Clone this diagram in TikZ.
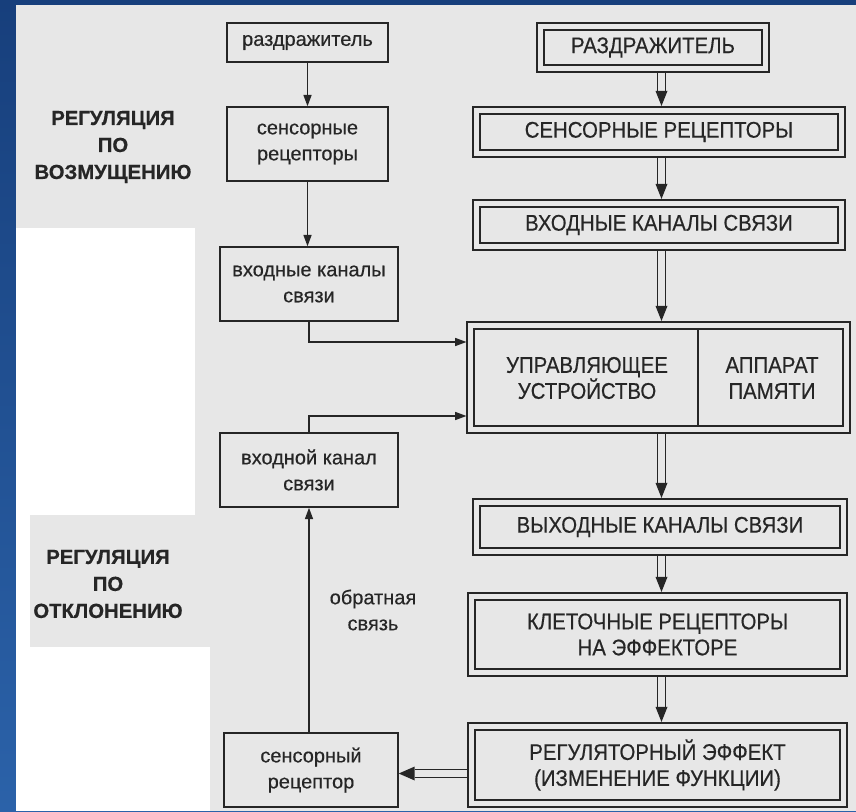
\documentclass[tikz,border=0pt]{standalone}
\usepackage{fontspec}
\setmainfont{Liberation Sans}[FakeBold=0.4]
\newfontfamily\capsfont{Liberation Sans}[FakeStretch=0.9,FakeBold=0.4]
\usetikzlibrary{calc,arrows.meta}
\definecolor{paper}{HTML}{E7E7E7}
\definecolor{ink}{HTML}{262626}
\definecolor{bluetop}{HTML}{173F7C}
\definecolor{bluebot}{HTML}{2B62A9}
\newcommand\dblarrow[2]{%
  \draw[dblline] ($(#1.south -| ax)+(0,4)$) -- ($(#2.north -| ax)+(0,-17)$);
  \fill[ink] ($(#2.north -| ax)+(0,-4)$) -- ++(-6,-15) -- ++(12,0) -- cycle;}
\begin{document}
\begin{tikzpicture}[x=0.75pt,y=-0.75pt,
  every node/.style={text=ink, inner sep=0pt, align=center},
  lbox/.style={draw=ink, line width=1.1pt, font=\fontsize{15}{19.5}\selectfont},
  capstext/.style={font=\capsfont\fontsize{17}{19.5}\selectfont},
  rbox/.style={draw=ink, line width=0.85pt, double=paper, double distance=4.4pt, capstext},
  arr/.style={draw=ink, line width=1.1pt, -{Triangle[length=8.5pt,width=6pt]}},
  dblline/.style={draw=ink, line width=0.85pt, double=paper, double distance=5.5pt},
  biglabel/.style={font=\bfseries\fontsize{15.25}{20.25}\selectfont},
  smalllabel/.style={font=\fontsize{15}{19.5}\selectfont}]
\useasboundingbox (0,0) rectangle (856,811);
% background
\shade[top color=bluetop, bottom color=bluebot] (0,0) rectangle (856,811);
\fill[paper] (16,5) rectangle (856,811);
\fill[white] (16,228) rectangle (195,515);
\fill[white] (16,515) rectangle (30,647);
\fill[white] (16,647) rectangle (210,811);
% helper coordinates
\coordinate (ax) at (661.5,0);
\coordinate (j1) at (308,342);
\coordinate (j2) at (308,416);
\coordinate (fb) at (0,773.5);
\coordinate (dv) at (698,0);
% left column
\node[lbox, minimum width=161*0.75pt, minimum height=39*0.75pt] (L1) at (307.5,42.5) {раздражитель};
\node[lbox, minimum width=161*0.75pt, minimum height=74*0.75pt] (L2) at (307.5,144) {сенсорные\\рецепторы};
\node[lbox, minimum width=178*0.75pt, minimum height=74*0.75pt] (L3) at (309,284) {входные каналы\\связи};
\node[lbox, minimum width=178*0.75pt, minimum height=74*0.75pt] (L4) at (309,470) {входной канал\\связи};
\node[lbox, minimum width=174*0.75pt, minimum height=74*0.75pt] (L5) at (311,770) {сенсорный\\рецептор};
% right column
\node[rbox, minimum width=225*0.75pt, minimum height=42*0.75pt] (R1) at (653,47.5) {РАЗДРАЖИТЕЛЬ};
\node[rbox, minimum width=365*0.75pt, minimum height=43*0.75pt] (R2) at (659,132) {СЕНСОРНЫЕ РЕЦЕПТОРЫ};
\node[rbox, minimum width=365*0.75pt, minimum height=43*0.75pt] (R3) at (659,225) {ВХОДНЫЕ КАНАЛЫ СВЯЗИ};
\node[rbox, minimum width=376*0.75pt, minimum height=104*0.75pt] (R4) at (658.5,377.5) {};
\node[rbox, minimum width=367*0.75pt, minimum height=49*0.75pt] (R5) at (660,527) {ВЫХОДНЫЕ КАНАЛЫ СВЯЗИ};
\node[rbox, minimum width=372*0.75pt, minimum height=76*0.75pt] (R6) at (657.5,634.5) {КЛЕТОЧНЫЕ РЕЦЕПТОРЫ\\НА ЭФФЕКТОРЕ};
\node[rbox, minimum width=372*0.75pt, minimum height=77*0.75pt] (R7) at (657.5,765) {РЕГУЛЯТОРНЫЙ ЭФФЕКТ\\(ИЗМЕНЕНИЕ ФУНКЦИИ)};
\draw[ink, line width=0.85pt] ($(R4.north -| dv)+(0,4)$) -- ($(R4.south -| dv)+(0,-4)$);
\node[capstext] (R4a) at (587,378) {УПРАВЛЯЮЩЕЕ\\УСТРОЙСТВО};
\node[capstext] (R4b) at (772,378) {АППАРАТ\\ПАМЯТИ};
% labels
\node[biglabel] (lab1) at (113,147) {РЕГУЛЯЦИЯ\\ПО\\ВОЗМУЩЕНИЮ};
\node[biglabel] (lab2) at (108,584) {РЕГУЛЯЦИЯ\\ПО\\ОТКЛОНЕНИЮ};
\node[smalllabel] (lab3) at (373,610) {обратная\\связь};
% left connectors
\draw[arr] (L1.south) -- (L1.south |- L2.north);
\draw[arr] (L2.south) -- (L2.south |- L3.north);
\draw[arr, shorten >=2.6pt] (L3.south) |- (R4.west |- j1);
\draw[arr, shorten >=2.6pt] (L4.north) |- (R4.west |- j2);
\draw[arr] (L4.south |- L5.north) -- (L4.south);
% right double connectors
\dblarrow{R1}{R2}
\dblarrow{R2}{R3}
\dblarrow{R3}{R4}
\dblarrow{R4}{R5}
\dblarrow{R5}{R6}
\dblarrow{R6}{R7}
\draw[dblline] ($(R7.west |- fb)+(-4,0)$) -- ($(L5.east |- fb)+(16,0)$);
\fill[ink] (L5.east |- fb) -- ++(16,-7) -- ++(0,14) -- cycle;
\end{tikzpicture}
\end{document}
